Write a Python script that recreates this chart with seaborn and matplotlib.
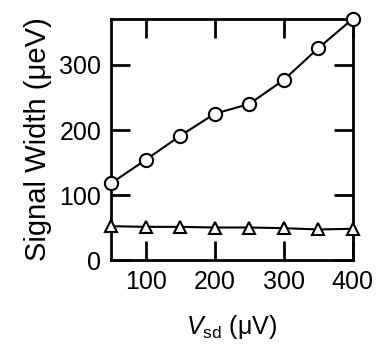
import numpy as np
import pandas as pd
import matplotlib.pyplot as plt
import seaborn as sns

# Dados
vsd = [50, 100, 150, 200, 250, 300, 350, 400]
width_circle = [118, 154, 191, 225, 240, 277, 326, 371]
width_triangle = [52, 51, 51, 50, 50, 49, 47, 48]

df = pd.DataFrame({"Vsd": vsd, "circ": width_circle, "tri": width_triangle})

sns.set_style("ticks")
plt.rcParams['font.family'] = ['Liberation Sans', 'DejaVu Sans']
plt.rcParams['mathtext.fontset'] = 'custom'
plt.rcParams['mathtext.it'] = 'Liberation Sans:italic'
plt.rcParams['mathtext.rm'] = 'Liberation Sans'
plt.rcParams['text.color'] = 'black'
plt.rcParams['axes.labelcolor'] = 'black'
plt.rcParams['xtick.color'] = 'black'
plt.rcParams['ytick.color'] = 'black'
plt.rcParams['axes.edgecolor'] = 'black'

fig = plt.figure(figsize=(3.79, 3.49), dpi=100)
ax = fig.add_axes([0.293, 0.255, 0.638, 0.691])

sns.lineplot(ax=ax, data=df, x="Vsd", y="circ", color="black", linewidth=1.5,
             marker="o", markersize=9.5, markerfacecolor="white",
             markeredgecolor="black", markeredgewidth=1.5, clip_on=False, zorder=5)
sns.lineplot(ax=ax, data=df, x="Vsd", y="tri", color="black", linewidth=1.5,
             marker="^", markersize=8, markerfacecolor="white",
             markeredgecolor="black", markeredgewidth=1.5, clip_on=False, zorder=5)

ax.set_xlim(50, 400)
ax.set_ylim(0, 371)
ax.set_xticks([100, 200, 300, 400])
ax.set_yticks([0, 100, 200, 300])
ax.tick_params(direction="in", length=14, width=2, labelsize=18,
               top=True, right=True, pad=7)
for s in ax.spines.values():
    s.set_linewidth(2)
    s.set_visible(True)

ax.set_xlabel(r"$V_{\mathrm{sd}}$ (μV)", fontsize=18, labelpad=14)
ax.set_ylabel("Signal Width (μeV)", fontsize=21, labelpad=5)

plt.savefig("out.png", dpi=100)
